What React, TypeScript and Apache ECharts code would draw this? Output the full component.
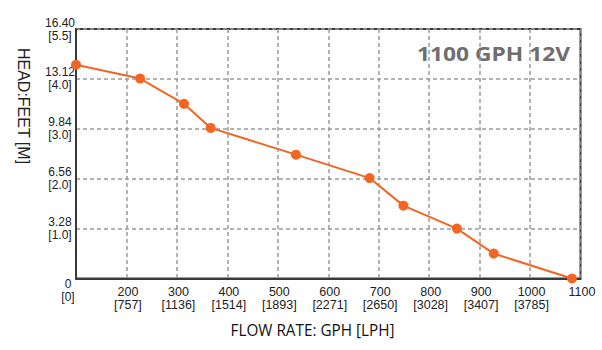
import React, { useEffect, useRef } from "react";
import * as echarts from "echarts";

const flowGph = [100, 227, 314, 367, 536, 682, 749, 855, 928, 1083];
const headFt = [14.05, 13.14, 11.48, 9.9, 8.14, 6.6, 4.79, 3.28, 1.64, 0];

const gphTicks = [200, 300, 400, 500, 600, 700, 800, 900, 1000, 1100];
const lphTicks = ["[757]", "[1136]", "[1514]", "[1893]", "[2271]", "[2650]", "[3028]", "[3407]", "[3785]", ""];

const ftTicks = ["0", "3.28", "6.56", "9.84", "13.12", "16.40"];
const mTicks = ["[0]", "[1.0]", "[2.0]", "[3.0]", "[4.0]", "[5.5]"];

const title = "1100 GPH 12V";
const xName = "FLOW RATE: GPH [LPH]";
const yName = "HEAD:FEET [M]";

const ORANGE = "#f26522";
const FONT = "'Liberation Sans', Arial, sans-serif";

export default function App() {
  const ref = useRef<HTMLDivElement>(null);
  useEffect(() => {
    if (!ref.current) return;
    const chart = echarts.init(ref.current, undefined, { renderer: "svg" });
    const data = flowGph.map((x, i) => [x, headFt[i]]);
    chart.setOption({
      animation: false,
      backgroundColor: "#ffffff",
      grid: {
        left: 76,
        right: 21.5,
        top: 29,
        bottom: 71.5,
        show: true,
        borderColor: "#3a3a3a",
        borderWidth: 2,
        backgroundColor: "transparent",
      },
      xAxis: {
        type: "value",
        min: 100,
        max: 1100,
        interval: 100,
        axisLine: { show: true, onZero: false, lineStyle: { color: "#3a3a3a", width: 2 } },
        axisTick: { show: false },
        splitLine: { show: true, lineStyle: { color: "#9a9a9a", width: 1.5, type: [4, 3] } },
        axisLabel: {
          margin: 7,
          fontFamily: FONT,
          fontSize: 12.5,
          lineHeight: 13,
          color: "#222",
          padding: [0, 0, 0, 3],
          formatter: (v: number) => {
            const i = gphTicks.indexOf(Math.round(v));
            if (i < 0) return "";
            return lphTicks[i] ? `${gphTicks[i]}\n${lphTicks[i]}` : `${gphTicks[i]}`;
          },
        },
      },
      yAxis: {
        type: "value",
        min: 0,
        max: 16.4,
        interval: 3.28,
        axisLine: { show: true, lineStyle: { color: "#3a3a3a", width: 2 } },
        axisTick: { show: false },
        splitLine: { show: true, lineStyle: { color: "#9a9a9a", width: 1.5, type: [4, 3] } },
        axisLabel: {
          margin: 16,
          align: "center",
          fontFamily: FONT,
          fontSize: 12,
          lineHeight: 13,
          color: "#222",
          formatter: (v: number) => {
            const i = Math.round(v / 3.28);
            if (i === 0) return "";
            return `${ftTicks[i]}\n${mTicks[i]}`;
          },
        },
      },
      series: [
        {
          type: "line",
          data,
          symbol: "circle",
          symbolSize: 10,
          lineStyle: { color: ORANGE, width: 2 },
          itemStyle: { color: ORANGE },
          z: 5,
        },
      ],
      graphic: [
        {
          type: "text",
          x: 68,
          y: 290,
          style: {
            text: `${ftTicks[0]}\n${mTicks[0]}`,
            fontFamily: FONT,
            fontSize: 12,
            lineHeight: 13,
            fill: "#222",
            align: "center",
            verticalAlign: "middle",
          },
        },
        {
          type: "text",
          x: 493.5,
          y: 54,
          scaleX: 1.2,
          style: {
            text: title,
            fontFamily: "'Open Sans', sans-serif",
            fontWeight: "bold",
            fontSize: 19,
            fill: "#6e6e6e",
            align: "center",
            verticalAlign: "middle",
          },
        },
        {
          type: "text",
          x: 312.5,
          y: 330,
          scaleX: 0.9,
          style: {
            text: xName,
            fontFamily: "'Open Sans', sans-serif",
            fontSize: 17,
            fill: "#111",
            align: "center",
            verticalAlign: "middle",
          },
        },
        {
          type: "text",
          x: 23,
          y: 106,
          rotation: -Math.PI / 2,
          style: {
            text: yName,
            fontFamily: FONT,
            fontSize: 16,
            fill: "#222",
            align: "center",
            verticalAlign: "middle",
          },
        },
      ],
    });
    return () => chart.dispose();
  }, []);
  return (
    <div
      ref={ref}
      style={{ position: "fixed", left: 0, top: 0, width: 602, height: 350, background: "#fff" }}
    />
  );
}
